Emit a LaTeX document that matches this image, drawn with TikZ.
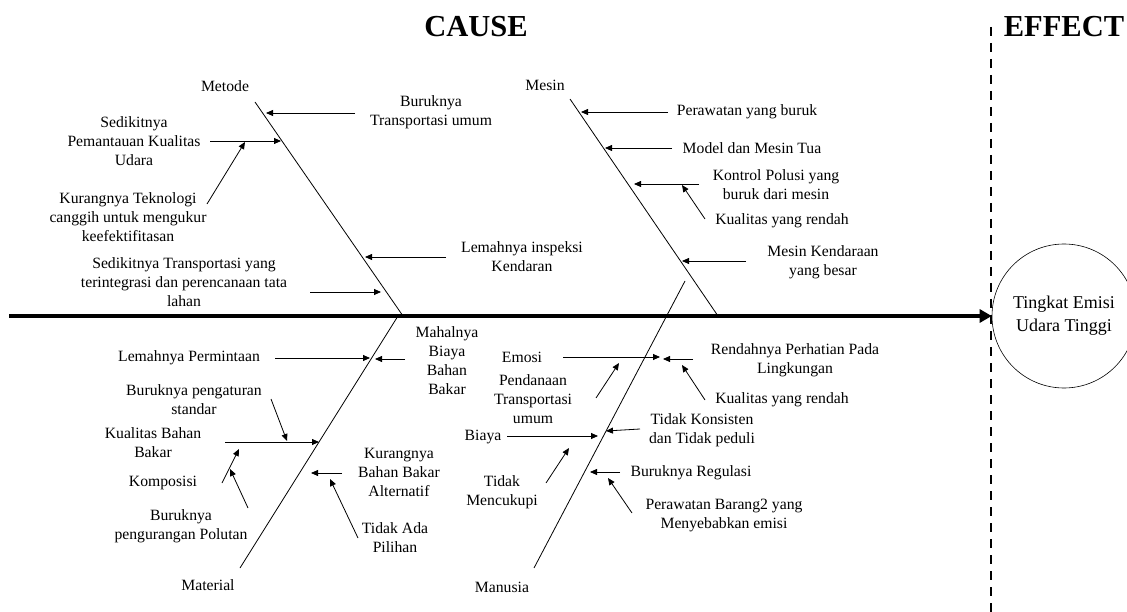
\documentclass[tikz,border=0pt]{standalone}
\usepackage{fontspec}
\setmainfont{Liberation Serif}
\usetikzlibrary{arrows.meta}

\tikzset{
  causeText/.style={align=center, inner sep=1pt, font=\fontsize{15.7}{19}\selectfont},
  titleText/.style={inner sep=0pt, font=\fontsize{30.5}{36}\selectfont\bfseries},
  bone/.style={line width=0.8pt},
  causeArrow/.style={line width=0.8pt, -{Triangle[length=7pt,width=6pt]}},
  spine/.style={line width=3.5pt, -{Triangle[length=12pt,width=13pt]}},
  divider/.style={line width=2pt, dash pattern=on 9pt off 7pt}
}

\begin{document}
\begin{tikzpicture}[x=1pt, y=-1pt]
\useasboundingbox (0,0) rectangle (1127,612);

\node[titleText] (cause) at (476,27) {CAUSE};
\node[titleText] (effectTitle) at (1064,27) {EFFECT};

\coordinate (dividerTop) at (991,27);
\coordinate (dividerBottom) at (991,612);
\draw[divider] (dividerTop) -- (dividerBottom);

\node[draw, circle, minimum size=144pt, inner sep=0pt, line width=0.6pt, align=center,
      font=\fontsize{18}{23}\selectfont] (effect) at (1064,316) {Tingkat Emisi\\Udara Tinggi};

\coordinate (spineStart) at (9,316);
\draw[spine] (spineStart) -- (effect.west);

\node[causeText] (metode) at (225,86) {Metode};
\node[causeText] (mesin) at (545,85) {Mesin};
\node[causeText] (material) at (208,585) {Material};
\node[causeText] (manusia) at (502,587) {Manusia};

\coordinate (metodeTop) at (255,102);
\coordinate (metodeEnd) at (403,316);
\coordinate (mesinTop) at (570,99);
\coordinate (mesinEnd) at (718,316);
\coordinate (materialTop) at (398,316);
\coordinate (materialEnd) at (240,568);
\coordinate (manusiaTop) at (685,281);
\coordinate (manusiaEnd) at (534,568);
\draw[bone] (metodeTop) -- (metodeEnd);
\draw[bone] (mesinTop) -- (mesinEnd);
\draw[bone] (materialTop) -- (materialEnd);
\draw[bone] (manusiaTop) -- (manusiaEnd);

% Metode
\node[causeText] (buruknyaTrans) at (431,112) {Buruknya\\Transportasi umum};
\coordinate (buruknyaTransTail) at (355,113);
\coordinate (buruknyaTransHead) at (266,113);
\draw[causeArrow] (buruknyaTransTail) -- (buruknyaTransHead);

\node[causeText] (pemantauan) at (134,141) {Sedikitnya\\Pemantauan Kualitas\\Udara};
\coordinate (pemantauanTail) at (210,141);
\coordinate (pemantauanHead) at (281,141);
\draw[causeArrow] (pemantauanTail) -- (pemantauanHead);

\node[causeText] (teknologi) at (128,217) {Kurangnya Teknologi\\canggih untuk mengukur\\keefektifitasan};
\coordinate (teknologiTail) at (207,204);
\coordinate (teknologiHead) at (245,142);
\draw[causeArrow] (teknologiTail) -- (teknologiHead);

\node[causeText] (inspeksi) at (522,257) {Lemahnya inspeksi\\Kendaran};
\coordinate (inspeksiTail) at (446,257);
\coordinate (inspeksiHead) at (365,257);
\draw[causeArrow] (inspeksiTail) -- (inspeksiHead);

\node[causeText] (terintegrasi) at (184,282) {Sedikitnya Transportasi yang\\terintegrasi dan perencanaan tata\\lahan};
\coordinate (terintegrasiTail) at (310,292);
\coordinate (terintegrasiHead) at (381,292);
\draw[causeArrow] (terintegrasiTail) -- (terintegrasiHead);

% Mesin
\node[causeText] (perawatan) at (747,112) {Perawatan yang buruk};
\coordinate (perawatanTail) at (668,112);
\coordinate (perawatanHead) at (581,112);
\draw[causeArrow] (perawatanTail) -- (perawatanHead);

\node[causeText] (mesinTua) at (752,148) {Model dan Mesin Tua};
\coordinate (mesinTuaTail) at (672,148);
\coordinate (mesinTuaHead) at (605,148);
\draw[causeArrow] (mesinTuaTail) -- (mesinTuaHead);

\node[causeText] (kontrolPolusi) at (776,185) {Kontrol Polusi yang\\buruk dari mesin};
\coordinate (kontrolPolusiTail) at (699,184);
\coordinate (kontrolPolusiHead) at (634,184);
\draw[causeArrow] (kontrolPolusiTail) -- (kontrolPolusiHead);

\node[causeText] (kualitasMesin) at (782,221) {Kualitas yang rendah};
\coordinate (kualitasMesinTail) at (705,219);
\coordinate (kualitasMesinHead) at (682,185);
\draw[causeArrow] (kualitasMesinTail) -- (kualitasMesinHead);

\node[causeText] (mesinBesar) at (823,262) {Mesin Kendaraan\\yang besar};
\coordinate (mesinBesarTail) at (746,261);
\coordinate (mesinBesarHead) at (682,261);
\draw[causeArrow] (mesinBesarTail) -- (mesinBesarHead);

% Material
\node[causeText] (permintaan) at (189,358) {Lemahnya Permintaan};
\coordinate (permintaanTail) at (275,358);
\coordinate (permintaanHead) at (370,358);
\draw[causeArrow] (permintaanTail) -- (permintaanHead);

\node[causeText] (biayaBakar) at (447,361) {Mahalnya\\Biaya\\Bahan\\Bakar};
\coordinate (biayaBakarTail) at (405,359);
\coordinate (biayaBakarHead) at (375,359);
\draw[causeArrow] (biayaBakarTail) -- (biayaBakarHead);

\node[causeText] (pengaturan) at (194,400) {Buruknya pengaturan\\standar};
\coordinate (pengaturanTail) at (271,399);
\coordinate (pengaturanHead) at (287,441);
\draw[causeArrow] (pengaturanTail) -- (pengaturanHead);

\node[causeText] (kualitasBakar) at (153,443) {Kualitas Bahan\\Bakar};
\coordinate (kualitasBakarTail) at (225,442);
\coordinate (kualitasBakarHead) at (319,442);
\draw[causeArrow] (kualitasBakarTail) -- (kualitasBakarHead);

\node[causeText] (komposisi) at (163,483) {Komposisi};
\coordinate (komposisiTail) at (222,483);
\coordinate (komposisiHead) at (239,449);
\draw[causeArrow] (komposisiTail) -- (komposisiHead);

\node[causeText] (polutan) at (181,526) {Buruknya\\pengurangan Polutan};
\coordinate (polutanTail) at (248,508);
\coordinate (polutanHead) at (230,469);
\draw[causeArrow] (polutanTail) -- (polutanHead);

\node[causeText] (alternatif) at (399,472) {Kurangnya\\Bahan Bakar\\Alternatif};
\coordinate (alternatifTail) at (342,473);
\coordinate (alternatifHead) at (311,473);
\draw[causeArrow] (alternatifTail) -- (alternatifHead);

\node[causeText] (pilihan) at (395,538) {Tidak Ada\\Pilihan};
\coordinate (pilihanTail) at (358,538);
\coordinate (pilihanHead) at (330,479);
\draw[causeArrow] (pilihanTail) -- (pilihanHead);

% Manusia
\node[causeText] (emosi) at (522,357) {Emosi};
\coordinate (emosiTail) at (563,357);
\coordinate (emosiHead) at (660,357);
\draw[causeArrow] (emosiTail) -- (emosiHead);

\node[causeText] (lingkungan) at (795,360) {Rendahnya Perhatian Pada\\Lingkungan};
\coordinate (lingkunganTail) at (693,359);
\coordinate (lingkunganHead) at (663,359);
\draw[causeArrow] (lingkunganTail) -- (lingkunganHead);

\node[causeText] (kualitasManusia) at (782,400) {Kualitas yang rendah};
\coordinate (kualitasManusiaTail) at (705,400);
\coordinate (kualitasManusiaHead) at (682,365);
\draw[causeArrow] (kualitasManusiaTail) -- (kualitasManusiaHead);

\node[causeText] (pendanaan) at (533,399) {Pendanaan\\Transportasi\\umum};
\coordinate (pendanaanTail) at (596,398);
\coordinate (pendanaanHead) at (619,363);
\draw[causeArrow] (pendanaanTail) -- (pendanaanHead);

\node[causeText] (biaya) at (483,437) {Biaya};
\coordinate (biayaTail) at (507,436);
\coordinate (biayaHead) at (598,436);
\draw[causeArrow] (biayaTail) -- (biayaHead);

\node[causeText] (konsisten) at (702,430) {Tidak Konsisten\\dan Tidak peduli};
\coordinate (konsistenTail) at (640,429);
\coordinate (konsistenHead) at (606,431);
\draw[causeArrow] (konsistenTail) -- (konsistenHead);

\node[causeText] (mencukupi) at (502,492) {Tidak\\Mencukupi};
\coordinate (mencukupiTail) at (546,483);
\coordinate (mencukupiHead) at (569,448);
\draw[causeArrow] (mencukupiTail) -- (mencukupiHead);

\node[causeText] (regulasi) at (691,473) {Buruknya Regulasi};
\coordinate (regulasiTail) at (620,472);
\coordinate (regulasiHead) at (590,472);
\draw[causeArrow] (regulasiTail) -- (regulasiHead);

\node[causeText] (barang) at (724,515) {Perawatan Barang2 yang\\Menyebabkan emisi};
\coordinate (barangTail) at (632,513);
\coordinate (barangHead) at (608,478);
\draw[causeArrow] (barangTail) -- (barangHead);

\end{tikzpicture}
\end{document}
